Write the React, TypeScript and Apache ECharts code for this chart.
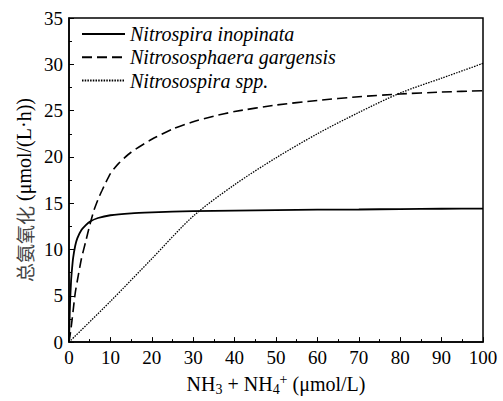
import React, { useEffect, useRef } from "react";
import * as echarts from "echarts";

const seriesNames = ["Nitrospira inopinata", "Nitrososphaera gargensis", "Nitrosospira spp."];

const inopinata: [number, number][] = [
  [0, 0], [0.1, 1.8], [0.25, 4.2], [0.5, 6.6], [0.75, 8.0], [1, 9.1], [1.5, 10.4], [2, 11.2],
  [3, 12.1], [4, 12.6], [5, 13.0], [7, 13.4], [10, 13.7], [15, 13.9], [20, 14.0], [30, 14.15],
  [40, 14.2], [50, 14.25], [60, 14.3], [70, 14.32], [80, 14.37], [90, 14.4], [100, 14.42],
];

const gargensis: [number, number][] = [
  [0, 0], [0.5, 1.5], [1, 3.4], [1.5, 5.3], [2, 6.6], [3, 9.0], [4, 10.8], [5, 12.6], [6, 14.2],
  [7, 15.4], [8, 16.4], [10, 18.2], [12, 19.3], [15, 20.5], [20, 21.9], [25, 23.0], [30, 23.8],
  [35, 24.4], [40, 24.9], [50, 25.6], [60, 26.1], [70, 26.5], [80, 26.8], [90, 27.0], [100, 27.15],
];

const nitrosospira: [number, number][] = [
  [0, 0], [10, 4.4], [20, 9.0], [30, 13.6], [40, 17.0], [50, 19.9], [60, 22.5], [70, 24.8],
  [80, 26.9], [90, 28.5], [100, 30.1],
];

const xMin = 0, xMax = 100, xStep = 10;
const yMin = 0, yMax = 35, yStep = 5;

const serif = "Liberation Serif";

export default function App() {
  const ref = useRef<HTMLDivElement>(null);
  useEffect(() => {
    const chart = echarts.init(ref.current!, null, { renderer: "svg" });
    const axisCommon = {
      type: "value",
      splitLine: { show: false },
      axisLine: { show: true, onZero: false, lineStyle: { color: "#000", width: 1.5 } },
      axisTick: { show: true, inside: true, length: 5, lineStyle: { color: "#000", width: 1 } },
      minorTick: { show: true, splitNumber: 2, length: 3, lineStyle: { color: "#000", width: 1 } },
      axisLabel: { color: "#000", fontFamily: serif, fontSize: 19, margin: 6 },
    };
    chart.setOption({
      animation: false,
      backgroundColor: "#fff",
      color: ["#000", "#000", "#000"],
      textStyle: { fontFamily: serif },
      grid: { left: 69, right: 20, top: 18, bottom: 57, show: true, borderColor: "#000", borderWidth: 1.5 },
      legend: {
        data: seriesNames,
        orient: "vertical",
        left: 76,
        top: 19,
        itemWidth: 43,
        itemHeight: 12,
        itemGap: 3.3,
        itemStyle: { opacity: 0 },
        textStyle: { fontFamily: serif, fontStyle: "italic", fontSize: 20, lineHeight: 20, color: "#000" },
      },
      xAxis: {
        ...axisCommon,
        min: xMin,
        max: xMax,
        interval: xStep,
        name: "{a|NH}{s|3}{a| + NH}{s|4}{p|+}{a| (μmol/L)}",
        nameLocation: "middle",
        nameGap: 26,
        nameTextStyle: {
          fontFamily: serif,
          rich: {
            a: { fontFamily: serif, fontSize: 20, color: "#000", lineHeight: 24 },
            s: { fontFamily: serif, fontSize: 14, color: "#000", lineHeight: 12, verticalAlign: "bottom" },
            p: { fontFamily: serif, fontSize: 14, color: "#000", lineHeight: 12, verticalAlign: "top" },
          },
        },
      },
      yAxis: {
        ...axisCommon,
        min: yMin,
        max: yMax,
        interval: yStep,
      },
      graphic: [
        {
          type: "text",
          x: 24,
          y: 190,
          rotation: Math.PI / 2,
          style: {
            text: "{c|总氨氧化} {a|(μmol/(L·h))}",
            align: "center",
            verticalAlign: "middle",
            fill: "#000",
            fontFamily: serif,
            fontSize: 20,
            rich: {
              c: { fontFamily: "Noto Sans CJK SC", fontSize: 19, fill: "#444" },
              a: { fontFamily: serif, fontSize: 20, fill: "#000" },
            },
          },
        },
      ],
      series: [
        {
          name: seriesNames[0],
          type: "line",
          data: inopinata,
          symbol: "none",
          smooth: 0.2,
          itemStyle: { color: "#000" },
          lineStyle: { color: "#000", width: 1.8, type: "solid" },
        },
        {
          name: seriesNames[1],
          type: "line",
          data: gargensis,
          symbol: "none",
          smooth: 0.2,
          itemStyle: { color: "#000" },
          lineStyle: { color: "#000", width: 1.6, type: [10, 5] },
        },
        {
          name: seriesNames[2],
          type: "line",
          data: nitrosospira,
          symbol: "none",
          smooth: 0.3,
          itemStyle: { color: "#000" },
          lineStyle: { color: "#000", width: 1.3, type: [1.5, 1.2] },
        },
      ],
    });
    return () => chart.dispose();
  }, []);
  return (
    <div
      ref={ref}
      style={{ position: "fixed", left: 0, top: 0, width: 503, height: 401, background: "#fff" }}
    />
  );
}
